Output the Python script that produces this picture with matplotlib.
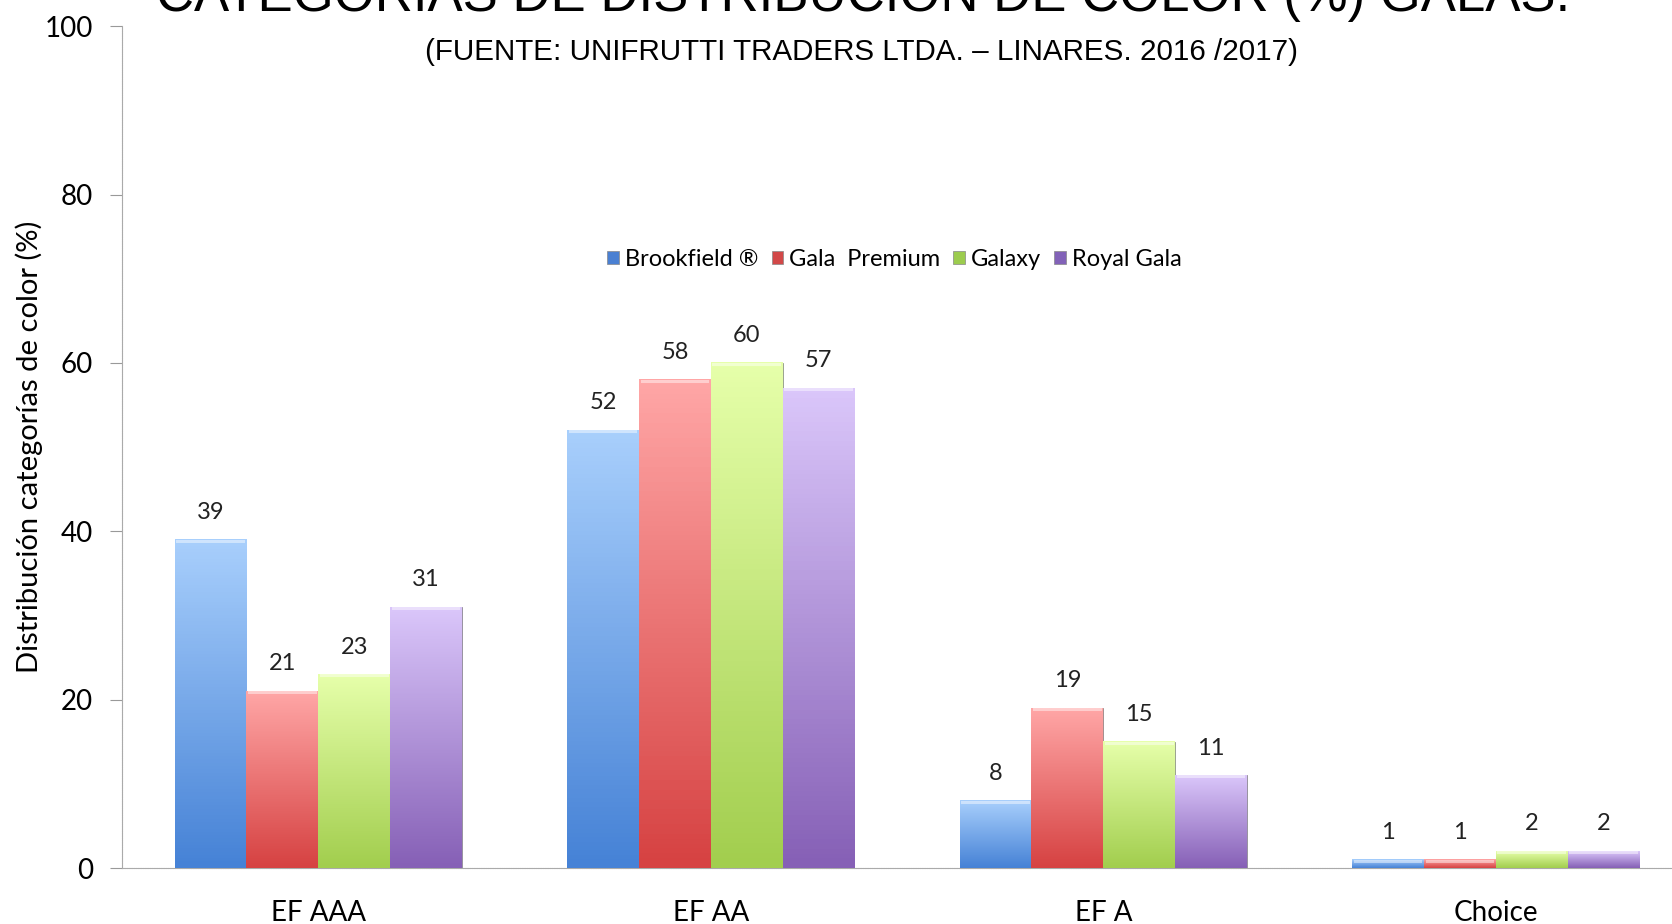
import numpy as np
import matplotlib
matplotlib.use("Agg")
import matplotlib.pyplot as plt
from matplotlib.colors import LinearSegmentedColormap
from matplotlib.patches import Patch

categories = ["EF AAA", "EF AA", "EF A", "Choice"]
series = ["Brookfield \u00ae", "Gala  Premium", "Galaxy", "Royal Gala"]
brookfield = [39, 52, 8, 1]
gala_premium = [21, 58, 19, 1]
galaxy = [23, 60, 15, 2]
royal_gala = [31, 57, 11, 2]
values = [brookfield, gala_premium, galaxy, royal_gala]

# (top, bottom) gradient colours per series, legend colour
tops = ["#a8cffc", "#ffa6a6", "#e6ffaa", "#dac6fa"]
bottoms = ["#4682d6", "#d64242", "#a2ce4e", "#8660b6"]
solid = ["#4a80d2", "#d24848", "#9ccc4e", "#8262b8"]

plt.rcParams["font.family"] = ["Lato", "DejaVu Sans"]

fig = plt.figure(figsize=(16.72, 9.24), dpi=100)
ax = fig.add_axes([0.073, 0.0606, 0.939, 0.911])

x = np.arange(len(categories))
w = 0.183
for i, vals in enumerate(values):
    pos = x + (i - 1.5) * w
    bars = ax.bar(pos, vals, width=w, color=solid[i], edgecolor="#888888",
                  linewidth=0.5, zorder=2)
    cmap = LinearSegmentedColormap.from_list("g%d" % i, [bottoms[i], tops[i]])
    grad = np.linspace(0, 1, 100).reshape(-1, 1)
    for b, v in zip(bars, vals):
        x0 = b.get_x()
        ax.imshow(grad, extent=(x0, x0 + w, 0, v), origin="lower", aspect="auto",
                  cmap=cmap, zorder=3)
        # light bevel at the top edge
        ax.fill_between([x0 + 0.004, x0 + w - 0.004], v - 0.35, v, color="white",
                        alpha=0.45, linewidth=0, zorder=4)
        ax.text(b.get_x() + w / 2, v + 2.0, str(v), ha="center", va="bottom",
                fontsize=17, color="#222222", zorder=5)

ax.set_xlim(-0.5, 3.5)
ax.set_ylim(0, 100)
ax.set_yticks([0, 20, 40, 60, 80, 100])
ax.set_xticks(x)
ax.set_xticklabels(categories, fontsize=20)
ax.tick_params(axis="y", labelsize=20, length=9, color="#999999", pad=12)
ax.tick_params(axis="x", length=0, pad=23)
for s in ["top", "right"]:
    ax.spines[s].set_visible(False)
ax.spines["left"].set_color("#aaaaaa")
ax.spines["bottom"].set_color("#aaaaaa")
ax.spines["left"].set_linestyle((0, (1, 0.6)))
ax.spines["bottom"].set_linestyle((0, (1, 0.6)))

fig.text(0.0175, 0.516, "Distribuci\u00f3n categor\u00edas de color (%)", rotation=90,
         ha="center", va="center", fontsize=21)

handles = [Patch(facecolor=c, edgecolor="#888888", linewidth=0.5) for c in solid]
ax.legend(handles, series, loc="center", bbox_to_anchor=(0.492, 0.723), ncol=4,
          frameon=False, fontsize=17, handlelength=0.5, handleheight=0.5,
          handletextpad=0.25, columnspacing=0.55)

fig.text(0.516, 0.988, "CATEGOR\u00cdAS DE DISTRIBUCI\u00d3N DE COLOR (%) GALAS.",
         ha="center", va="baseline", fontsize=38, family=["Liberation Sans", "DejaVu Sans"])
fig.text(0.515, 0.944, "(FUENTE: UNIFRUTTI TRADERS LTDA. \u2013 LINARES. 2016 /2017)",
         ha="center", va="center", fontsize=21.3, family=["Liberation Sans", "DejaVu Sans"])

fig.savefig("out.png", dpi=100)
